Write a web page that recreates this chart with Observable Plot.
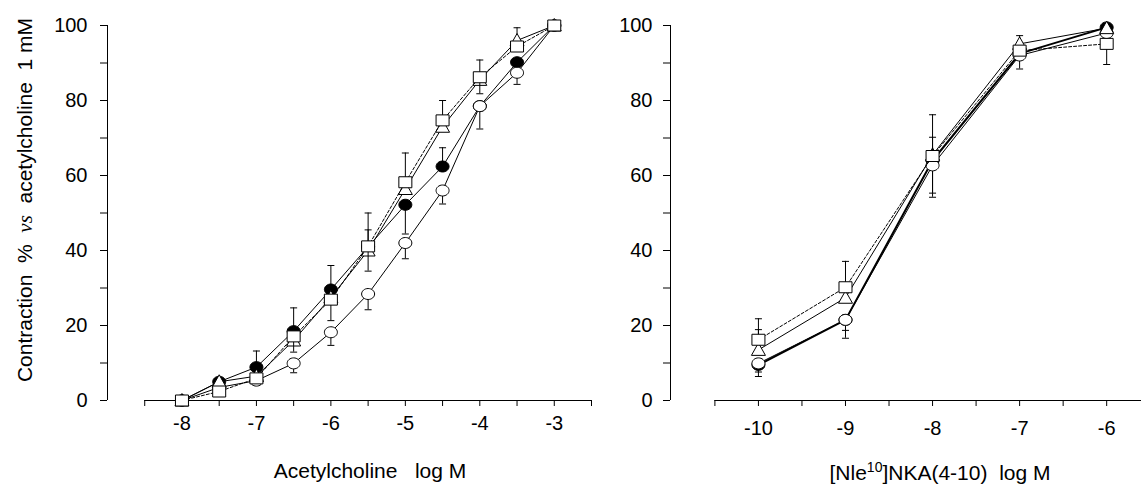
<!DOCTYPE html>
<html><head><meta charset="utf-8">
<script src="https://cdn.jsdelivr.net/npm/d3@7"></script>
<script src="https://cdn.jsdelivr.net/npm/@observablehq/plot@0.6"></script>
<style>
body{margin:0;background:#fff;}
#wrap{position:relative;width:1141px;height:485px;display:flex;overflow:hidden;}
svg text{font-family:"Liberation Sans",Arial,Helvetica,sans-serif;}
</style></head><body><div id="wrap"></div>
<script>
// ---------- Left panel: Acetylcholine ----------
const achX        = [-8, -7.5, -7, -6.5, -6, -5.5, -5, -4.5, -4, -3.5, -3];
const achOpen     = [0, 3.5, 5.3, 9.9, 18.2, 28.4, 42, 56, 78.5, 87.4, 100];
const achFilled   = [0, 5, 8.9, 18.5, 29.6, 41, 52.2, 62.4, 78.5, 90.2, 100];
const achTriangle = [0, 5, 6.5, 16, 27.5, 40, 56.4, 73, 85.5, 96, 100];
const achSquare   = [0, 2.4, 5.9, 17.1, 26.9, 41.1, 58.2, 74.7, 86.2, 94.4, 100];
// error bar ends (null = no bar drawn)
const achOpenLo     = [null, null, null, 7.4, 14.7, 24.2, 37.8, 52.4, 72.4, 84.3, null];
const achFilledHi   = [null, null, 13.2, 24.7, 36, 45.5, null, 67.4, null, null, null];
const achFilledLo   = [null, null, null, null, null, null, 44.4, null, null, null, null];
const achTriangleHi = [null, null, null, null, null, null, null, null, null, 99.4, null];
const achSquareHi   = [null, null, null, null, null, 50, 66, 80, 90.8, null, null];
const achSquareLo   = [null, null, null, 12.9, 21.3, 34.5, null, null, 81.8, null, null];
const achTicks      = [-8.5, -8, -7.5, -7, -6.5, -6, -5.5, -5, -4.5, -4, -3.5, -3, -2.5];
const achTickLabels = ["", "-8", "", "-7", "", "-6", "", "-5", "", "-4", "", "-3", ""];

// ---------- Right panel: [Nle10]NKA(4-10) ----------
const nkaX        = [-10, -9, -8, -7, -6];
const nkaOpen     = [9.9, 21.5, 62.7, 92, 98];
const nkaFilled   = [9.5, 21.5, 64, 92.5, 99.5];
const nkaTriangle = [13.5, 27.4, 65.5, 95.1, 99.3];
const nkaSquare   = [16.2, 30.2, 65.2, 93.3, 95.1];
const nkaOpenLo     = [6.4, 16.6, 54.2, 88.4, null];
const nkaFilledLo   = [7.6, 18.7, 55.3, null, null];
const nkaTriangleHi = [18.9, null, 70.2, 97.3, null];
const nkaSquareHi   = [21.8, 37.1, 76.2, null, null];
const nkaSquareLo   = [null, null, null, null, 89.6];
const nkaTicks      = [-10.5, -10, -9.5, -9, -8.5, -8, -7.5, -7, -6.5, -6];
const nkaTickLabels = ["", "-10", "", "-9", "", "-8", "", "-7", "", "-6"];

// ---------- Y axis ----------
const yTicks      = [0, 10, 20, 30, 40, 50, 60, 70, 80, 90, 100];
const yTickLabels = ["0", "", "20", "", "40", "", "60", "", "80", "", "100"];

// ---------- marker shapes ----------
const K = 0.5523;
const ellipseSym = {draw(c){const rx=6.5, ry=5.5;
  c.moveTo(rx,0); c.bezierCurveTo(rx,ry*K,rx*K,ry,0,ry); c.bezierCurveTo(-rx*K,ry,-rx,ry*K,-rx,0);
  c.bezierCurveTo(-rx,-ry*K,-rx*K,-ry,0,-ry); c.bezierCurveTo(rx*K,-ry,rx,-ry*K,rx,0); c.closePath();}};
const squareSym = {draw(c){c.moveTo(-6.5,-5.5); c.lineTo(6.5,-5.5); c.lineTo(6.5,5.5); c.lineTo(-6.5,5.5); c.closePath();}};
const triSym = {draw(c){c.moveTo(0,-7); c.lineTo(7,5.5); c.lineTo(-7,5.5); c.closePath();}};
const capSym = {draw(c){c.moveTo(-3.5,0); c.lineTo(3.5,0);}};

function rows(xs, ys, his, los){
  return xs.map((x,i)=>({x, y: ys[i], hi: his ? his[i] : null, lo: los ? los[i] : null}));
}

function seriesMarks(data, sym, fill, dash, lw){
  const hi = data.filter(d=>d.hi!=null), lo = data.filter(d=>d.lo!=null);
  return [
    Plot.line(data, {x:"x", y:"y", stroke:"black", strokeWidth: lw, strokeDasharray: dash}),
    Plot.ruleX(hi, {x:"x", y1:"y", y2:"hi", stroke:"black", strokeWidth:1}),
    Plot.dot(hi, {x:"x", y:"hi", symbol: capSym, r: 3, stroke:"black", fill:"none", strokeWidth:1}),
    Plot.ruleX(lo, {x:"x", y1:"y", y2:"lo", stroke:"black", strokeWidth:1}),
    Plot.dot(lo, {x:"x", y:"lo", symbol: capSym, r: 3, stroke:"black", fill:"none", strokeWidth:1}),
    Plot.dot(data, {x:"x", y:"y", symbol: sym, r: 5, fill, stroke:"black", strokeWidth:1})
  ];
}

function panel(o){
  const xl = new Map(o.ticks.map((t,i)=>[t,o.tickLabels[i]]));
  const yl = new Map(yTicks.map((t,i)=>[t,yTickLabels[i]]));
  return Plot.plot({
    width: o.width, height: 485,
    marginLeft: o.ml, marginRight: o.mr, marginTop: 25, marginBottom: 85,
    style: {fontSize: "20px", fontFamily: '"Liberation Sans",Arial,sans-serif', background: "white", overflow: "visible"},
    x: {domain: o.domain},
    y: {domain: [0, 100]},
    marks: [
      Plot.ruleX([o.domain[0]], {stroke:"black", strokeWidth:1}),
      Plot.ruleY([0], {x1: o.axisStart, x2: o.axisEnd, stroke:"black", strokeWidth:1}),
      Plot.axisY({ticks: yTicks, tickFormat: d=>yl.get(d), tickSize: 7, tickPadding: o.yPad, fontSize: 20, label: null, stroke:"black"}),
      Plot.axisX({ticks: o.ticks, tickFormat: d=>xl.get(d), tickSize: 6, tickPadding: o.xPad, fontSize: 20, label: null, stroke:"black"}),
      ...o.series.flatMap(s=>seriesMarks(s.data, s.sym, s.fill, s.dash, s.lw))
    ]
  });
}

const wrap = document.getElementById("wrap");

const left = panel({
  width: 600, ml: 107, mr: 9, domain: [-9, -2.5], axisStart: -8.5, axisEnd: -2.5,
  ticks: achTicks, tickLabels: achTickLabels, yPad: 13, xPad: 9,
  series: [
    {data: rows(achX, achFilled, achFilledHi, achFilledLo), sym: ellipseSym, fill: "black", dash: null, lw: 1},
    {data: rows(achX, achOpen, null, achOpenLo), sym: ellipseSym, fill: "white", dash: null, lw: 1},
    {data: rows(achX, achTriangle, achTriangleHi, null), sym: triSym, fill: "white", dash: null, lw: 1},
    {data: rows(achX, achSquare, achSquareHi, achSquareLo), sym: squareSym, fill: "white", dash: "3,2", lw: 1}
  ]
});
const right = panel({
  width: 541, ml: 70, mr: 0, domain: [-11.01, -5.6], axisStart: -10.5, axisEnd: -5.6,
  ticks: nkaTicks, tickLabels: nkaTickLabels, yPad: 11, xPad: 14,
  series: [
    {data: rows(nkaX, nkaFilled, null, nkaFilledLo), sym: ellipseSym, fill: "black", dash: null, lw: 2},
    {data: rows(nkaX, nkaOpen, null, nkaOpenLo), sym: ellipseSym, fill: "white", dash: null, lw: 1},
    {data: rows(nkaX, nkaTriangle, nkaTriangleHi, null), sym: triSym, fill: "white", dash: null, lw: 1},
    {data: rows(nkaX, nkaSquare, nkaSquareHi, nkaSquareLo), sym: squareSym, fill: "white", dash: "3,2", lw: 1}
  ]
});
wrap.appendChild(left);
wrap.appendChild(right);

// axis titles
const font = '"Liberation Sans",Arial,sans-serif';
const ls = d3.select(left);
const yt = ls.append("text").attr("transform", "translate(32,200) rotate(-90)")
  .attr("text-anchor", "middle").attr("xml:space", "preserve")
  .style("white-space", "pre").style("font-size", "21px").style("font-family", font).attr("fill", "black");
yt.append("tspan").text("Contraction  %  ");
yt.append("tspan").text("vs").style("font-family", '"Liberation Serif","Times New Roman",serif').style("font-style", "italic");
yt.append("tspan").text("  acetylcholine  1 mM");

ls.append("text").attr("x", 370).attr("y", 478).attr("text-anchor", "middle")
  .attr("xml:space", "preserve").style("white-space", "pre").style("font-size", "21px")
  .style("font-family", font).attr("fill", "black").text("Acetylcholine   log M");

const rs = d3.select(right);
const xt = rs.append("text").attr("x", 340).attr("y", 480).attr("text-anchor", "middle")
  .attr("xml:space", "preserve").style("white-space", "pre").style("font-size", "21px")
  .style("font-family", font).attr("fill", "black");
xt.append("tspan").text("[Nle");
xt.append("tspan").text("10").attr("dy", -8).style("font-size", "14px");
xt.append("tspan").text("]NKA(4-10)  log M").attr("dy", 8);
</script>
</body></html>
